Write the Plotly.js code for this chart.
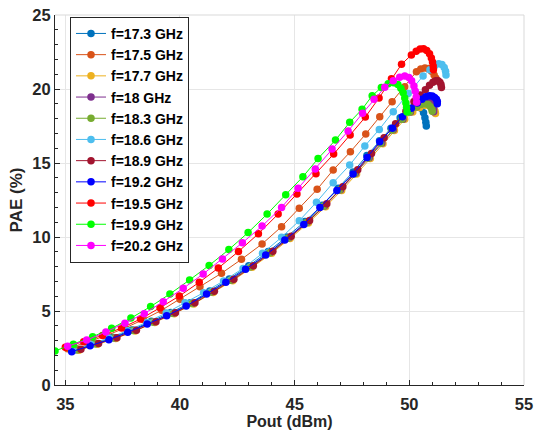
<!DOCTYPE html>
<html><head><meta charset="utf-8">
<script src="https://cdn.plot.ly/plotly-3.0.1.min.js"></script>
<style>html,body{margin:0;padding:0;background:#fff}#c{width:534px;height:435px}</style>
</head><body><div id="c"></div>
<script>
const names = ["f=17.3 GHz","f=17.5 GHz","f=17.7 GHz","f=18 GHz","f=18.3 GHz","f=18.6 GHz","f=18.9 GHz","f=19.2 GHz","f=19.5 GHz","f=19.9 GHz","f=20.2 GHz"];
const colors = ["#0072BD","#D95319","#EDB120","#7E2F8E","#77AC30","#4DBEEE","#A2142F","#0000FF","#FF0000","#00FF00","#FF00FF"];

const pout_17_3 = [35.45,36.25,37.05,37.9,38.75,39.6,40.45,41.3,42.15,43.0,43.85,44.65,45.45,46.2,46.9,47.55,48.15,48.7,49.2,49.6,49.95,50.2,50.38,50.52,50.62,50.68,50.72,50.74];
const pae_17_3  = [2.38,2.8,3.22,3.72,4.3,4.9,5.55,6.35,7.17,8.05,9.02,10.0,11.05,12.15,13.3,14.4,15.5,16.5,17.35,18.05,18.55,18.8,18.85,18.7,18.4,18.05,17.75,17.5];

const pout_17_5 = [35.1,35.95,36.8,37.6,38.4,39.2,40.0,40.87,41.81,42.68,43.58,44.43,45.2,45.98,46.68,47.43,48.1,48.71,49.25,49.8,50.31,50.5,50.68,50.83,50.97,51.08,51.15,51.18];
const pae_17_5  = [2.45,2.88,3.35,3.85,4.42,5.05,5.8,6.64,7.55,8.49,9.53,10.7,11.94,13.22,14.53,15.76,16.96,18.13,19.14,20.15,21.17,21.35,21.42,21.38,21.2,20.95,20.75,20.6];

const pout_17_7 = [35.6,36.4,37.2,38.05,38.9,39.75,40.6,41.45,42.3,43.15,44.0,44.8,45.6,46.35,47.05,47.7,48.3,48.85,49.35,49.8,50.15,50.45,50.68,50.85,50.98,51.07,51.12,51.14];
const pae_17_7  = [2.35,2.75,3.15,3.65,4.22,4.82,5.48,6.25,7.05,7.95,8.9,9.9,10.95,12.05,13.15,14.25,15.3,16.3,17.2,17.95,18.45,18.75,18.9,18.9,18.8,18.65,18.5,18.35];

const pout_18 = [35.55,36.35,37.15,38.0,38.85,39.7,40.55,41.4,42.25,43.1,43.95,44.75,45.55,46.3,47.0,47.65,48.25,48.8,49.3,49.72,50.05,50.32,50.52,50.7,50.85,50.96,51.03,51.06,51.06];
const pae_18  = [2.4,2.8,3.2,3.7,4.27,4.87,5.53,6.3,7.1,8.0,8.95,9.95,11.0,12.1,13.2,14.3,15.35,16.35,17.25,17.95,18.45,18.8,19.0,19.12,19.12,19.0,18.85,18.65,18.47];

const pout_18_3 = [35.5,36.3,37.1,37.95,38.8,39.65,40.5,41.35,42.2,43.05,43.9,44.7,45.5,46.25,46.95,47.6,48.2,48.75,49.25,49.68,50.02,50.3,50.5,50.68,50.82,50.92,50.98,51.0];
const pae_18_3  = [2.38,2.78,3.18,3.68,4.25,4.85,5.5,6.28,7.08,7.98,8.93,9.92,10.97,12.07,13.17,14.27,15.33,16.33,17.23,17.95,18.45,18.78,18.95,19.0,18.95,18.8,18.65,18.5];

const pout_18_6 = [35.3,36.1,36.9,37.7,38.55,39.4,40.22,41.03,41.9,42.75,43.6,44.43,45.2,45.95,46.68,47.4,48.06,48.69,49.3,49.95,50.6,50.9,51.1,51.28,51.42,51.52,51.58,51.6];
const pae_18_6  = [2.35,2.75,3.17,3.67,4.23,4.87,5.56,6.24,7.03,7.88,8.9,9.98,11.1,12.35,13.67,14.86,16.15,17.27,18.47,19.7,20.88,21.3,21.55,21.7,21.65,21.45,21.2,20.95];

const pout_18_9 = [35.68,36.45,37.25,38.1,38.95,39.8,40.65,41.5,42.35,43.2,44.05,44.85,45.65,46.4,47.1,47.75,48.35,48.9,49.4,49.85,50.2,50.48,50.7,50.88,51.03,51.15,51.25,51.33,51.38,51.4];
const pae_18_9  = [2.41,2.8,3.2,3.7,4.27,4.88,5.55,6.33,7.15,8.06,9.03,10.05,11.12,12.25,13.4,14.55,15.65,16.7,17.65,18.5,19.15,19.6,19.95,20.25,20.45,20.55,20.55,20.45,20.3,20.1];

const pout_19_2 = [35.28,36.08,36.9,37.72,38.57,39.42,40.27,41.16,42.0,42.86,43.74,44.57,45.4,46.1,46.84,47.55,48.16,48.71,49.26,49.7,50.09,50.35,50.55,50.72,50.88,51.0,51.1,51.18,51.22,51.22];
const pae_19_2  = [2.25,2.66,3.06,3.56,4.12,4.68,5.33,6.15,6.94,7.82,8.78,9.8,10.85,12.0,13.15,14.26,15.38,16.44,17.34,18.13,18.7,19.05,19.3,19.48,19.55,19.52,19.42,19.3,19.15,19.0];

const pout_19_5 = [35.0,35.8,36.62,37.45,38.28,39.13,39.97,40.84,41.67,42.55,43.42,44.28,45.1,45.93,46.7,47.42,48.08,48.68,49.22,49.66,50.09,50.3,50.47,50.62,50.76,50.88,50.96,51.01,51.04,51.05];
const pae_19_5  = [2.55,2.92,3.35,3.85,4.46,5.22,6.01,6.94,7.9,9.02,10.22,11.55,12.9,14.28,15.6,16.9,18.1,19.4,20.7,21.67,22.3,22.55,22.7,22.72,22.6,22.38,22.1,21.82,21.55,21.3];

const pout_19_9 = [34.55,35.35,36.19,37.02,37.86,38.72,39.56,40.42,41.27,42.13,42.97,43.8,44.61,45.36,46.02,46.78,47.4,47.94,48.38,48.78,49.08,49.32,49.5,49.63,49.73,49.8,49.85,49.88,49.9];
const pae_19_9  = [2.3,2.75,3.26,3.83,4.52,5.3,6.15,7.1,8.08,9.15,10.3,11.55,12.85,14.07,15.3,16.55,17.75,18.63,19.55,20.1,20.35,20.42,20.3,20.05,19.75,19.4,19.05,18.75,18.45];

const pout_20_2 = [35.1,35.93,36.77,37.6,38.44,39.27,40.14,41.01,41.85,42.72,43.58,44.43,45.15,45.9,46.63,47.33,47.96,48.46,48.93,49.3,49.58,49.8,49.98,50.1,50.2,50.26,50.3,50.32];
const pae_20_2  = [2.62,3.04,3.58,4.17,4.82,5.63,6.53,7.5,8.51,9.61,10.74,12.0,13.29,14.6,15.95,17.16,18.36,19.3,20.11,20.55,20.8,20.88,20.78,20.55,20.2,19.85,19.45,19.1];

const xTicks = [35,40,45,50,55];
const yTicks = [0,5,10,15,20,25];

const xs = [pout_17_3,pout_17_5,pout_17_7,pout_18,pout_18_3,pout_18_6,pout_18_9,pout_19_2,pout_19_5,pout_19_9,pout_20_2];
const ys = [pae_17_3,pae_17_5,pae_17_7,pae_18,pae_18_3,pae_18_6,pae_18_9,pae_19_2,pae_19_5,pae_19_9,pae_20_2];

const traces = names.map((n,i)=>({
  x: xs[i], y: ys[i], name: n, type: 'scatter', mode: 'lines+markers',
  line: {color: colors[i], width: 1},
  marker: {color: colors[i], size: 7.5}
}));

const F = 'Liberation Sans, Arial, Helvetica, sans-serif';
const layout = {
  width: 534, height: 435,
  margin: {l: 55, r: 10, t: 15, b: 50},
  paper_bgcolor: '#fff', plot_bgcolor: '#fff',
  showlegend: true,
  font: {family: F, color: '#262626'},
  xaxis: {
    range: [34.55, 55], tickvals: xTicks, ticktext: xTicks.map(String),
    ticks: 'inside', ticklen: 5, tickcolor: '#262626', ticklabelstandoff: 4,
    minor: {dtick: 1, tick0: 35, ticks: 'inside', ticklen: 3, tickcolor: '#262626', showgrid: false},
    showgrid: true, gridcolor: '#e6e6e6', gridwidth: 1,
    showline: true, linecolor: '#262626', linewidth: 1, zeroline: false,
    tickfont: {family: F, size: 16.5, weight: 'bold', color: '#262626'},
    title: {text: 'Pout (dBm)', font: {family: F, size: 16, weight: 'bold', color: '#262626'}, standoff: 4}
  },
  yaxis: {
    range: [0, 25], tickvals: yTicks, ticktext: yTicks.map(String),
    ticks: 'inside', ticklen: 5, tickcolor: '#262626',
    minor: {dtick: 1, tick0: 0, ticks: 'inside', ticklen: 3, tickcolor: '#262626', showgrid: false},
    showgrid: true, gridcolor: '#e6e6e6', gridwidth: 1,
    showline: true, linecolor: '#262626', linewidth: 1, zeroline: false,
    tickfont: {family: F, size: 16.5, weight: 'bold', color: '#262626'},
    title: {text: 'PAE (%)', font: {family: F, size: 17, weight: 'bold', color: '#262626'}, standoff: 5}
  },
  legend: {
    x: 0.032, y: 0.995, xanchor: 'left', yanchor: 'top',
    bgcolor: '#fff', bordercolor: '#262626', borderwidth: 1,
    font: {family: F, size: 14, weight: 'bold', color: '#000'},
    itemwidth: 30
  },
  shapes: [
    {type: 'line', xref: 'paper', yref: 'paper', x0: 0, x1: 1, y0: 1, y1: 1, line: {color: '#d9d9d9', width: 1}},
    {type: 'line', xref: 'paper', yref: 'paper', x0: 1, x1: 1, y0: 0, y1: 1, line: {color: '#d9d9d9', width: 1}}
  ]
};
Plotly.newPlot('c', traces, layout, {displayModeBar: false, staticPlot: true});
</script>
</body></html>
